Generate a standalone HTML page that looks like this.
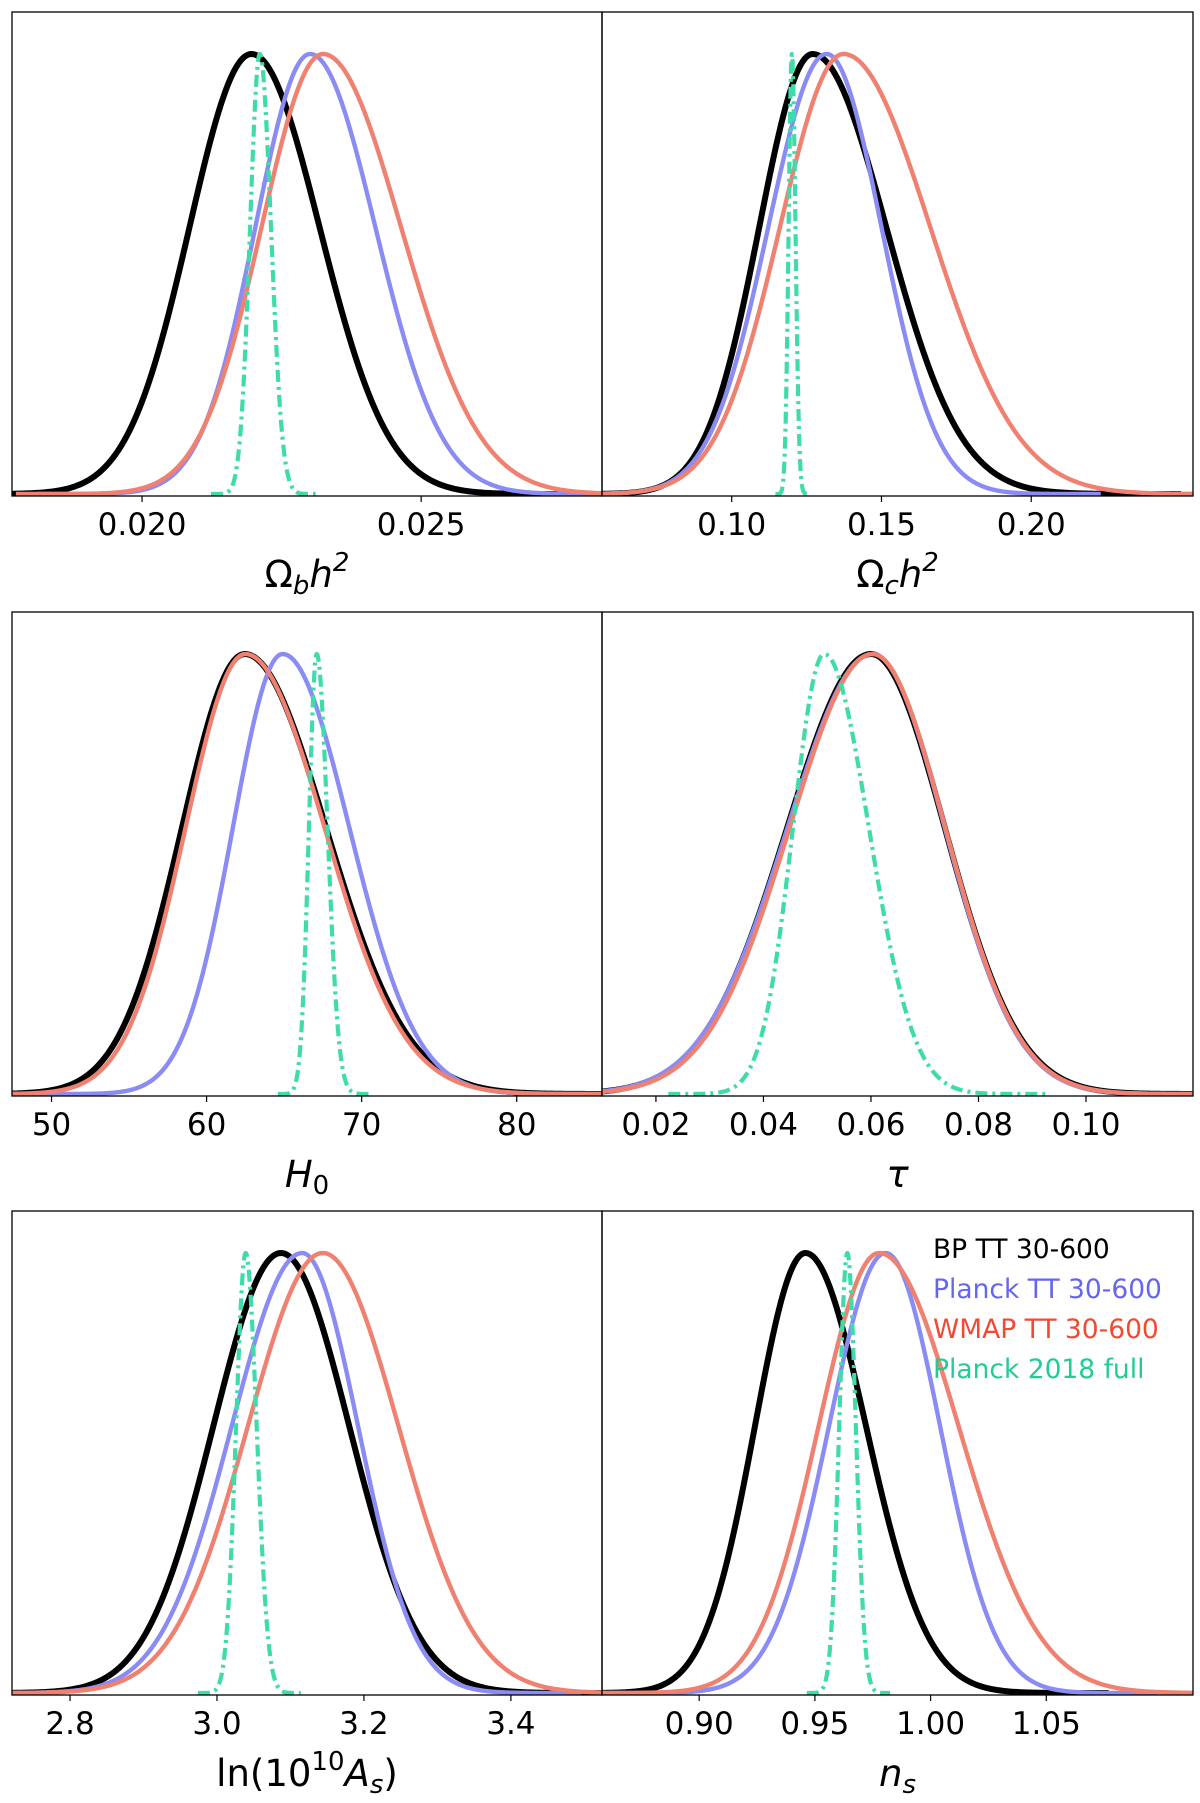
<!DOCTYPE html>
<html><head><meta charset="utf-8">
<style>
html,body{margin:0;padding:0;background:#fff;}
svg{display:block;font-family:"DejaVu Sans","Liberation Sans",sans-serif;}
</style></head>
<body>
<svg id="fig" width="1200" height="1803" viewBox="0 0 1200 1803" xmlns="http://www.w3.org/2000/svg"></svg>
<script>
// ---- data (split-normal fits: peak, sigma-left, sigma-right) ----
const seriesNames = ["BP TT 30-600","Planck TT 30-600","WMAP TT 30-600","Planck 2018 full"];
const obhPeak = [0.02196, 0.02301, 0.02324, 0.02211];
const obhSigL = [0.00111, 0.00098, 0.00110, 0.000175];
const obhSigR = [0.00122, 0.00117, 0.00140, 0.00020];
const ochPeak = [0.127, 0.1317, 0.1373, 0.1201];
const ochSigL = [0.0178, 0.0195, 0.0212, 0.0011];
const ochSigR = [0.0246, 0.0183, 0.0290, 0.0012];
const h0Peak = [62.46, 64.9, 62.5, 67.1];
const h0SigL = [4.04, 3.2, 3.85, 0.5];
const h0SigR = [5.23, 4.3, 5.1, 0.7];
const tauPeak = [0.0600, 0.0603, 0.0603, 0.0513];
const tauSigL = [0.01555, 0.0158, 0.0154, 0.0058];
const tauSigR = [0.0137, 0.0134, 0.0135, 0.0083];
const asPeak = [3.087, 3.116, 3.144, 3.039];
const asSigL = [0.092, 0.096, 0.102, 0.013];
const asSigR = [0.093, 0.076, 0.103, 0.015];
const nsPeak = [0.9459, 0.9806, 0.9777, 0.964];
const nsSigL = [0.0218, 0.0245, 0.0261, 0.0035];
const nsSigR = [0.0262, 0.0235, 0.0344, 0.0037];
const obhTicks = [0.020, 0.025];
const obhTickLabels = ["0.020","0.025"];
const ochTicks = [0.10, 0.15, 0.20];
const ochTickLabels = ["0.10","0.15","0.20"];
const h0Ticks = [50, 60, 70, 80];
const h0TickLabels = ["50","60","70","80"];
const tauTicks = [0.02, 0.04, 0.06, 0.08, 0.10];
const tauTickLabels = ["0.02","0.04","0.06","0.08","0.10"];
const asTicks = [2.8, 3.0, 3.2, 3.4];
const asTickLabels = ["2.8","3.0","3.2","3.4"];
const nsTicks = [0.90, 0.95, 1.00, 1.05];
const nsTickLabels = ["0.90","0.95","1.00","1.05"];

const NS = "http://www.w3.org/2000/svg";
const svg = document.getElementById('fig');
const colors = ["#000000","#8a8cf4","#f08070","#40dbab"];
const widths = [6, 4.4, 4.4, 4.2];
function mk(tag, attrs, parent){const e=document.createElementNS(NS,tag);for(const k in attrs)e.setAttribute(k,attrs[k]);(parent||svg).appendChild(e);return e;}

const panels = [
 {name:"omega-b-h2", x0:12, x1:602, top:12, xmin:0.01767, xmax:0.02824, peak:obhPeak, sl:obhSigL, sr:obhSigR, ticks:obhTicks, tl:obhTickLabels, label:[["Ω",""],["b","sub"],["h",""],["2","sup"]]},
 {name:"omega-c-h2", x0:602, x1:1193, top:12, xmin:0.0567, xmax:0.254, peak:ochPeak, sl:ochSigL, sr:ochSigR, ticks:ochTicks, tl:ochTickLabels, label:[["Ω",""],["c","sub"],["h",""],["2","sup"]]},
 {name:"h0", x0:12, x1:602, top:612, xmin:47.45, xmax:85.5, peak:h0Peak, sl:h0SigL, sr:h0SigR, ticks:h0Ticks, tl:h0TickLabels, label:[["H",""],["0","subn"]]},
 {name:"tau", x0:602, x1:1193, top:612, xmin:0.00997, xmax:0.1199, peak:tauPeak, sl:tauSigL, sr:tauSigR, ticks:tauTicks, tl:tauTickLabels, label:[["τ",""]]},
 {name:"ln-as", x0:12, x1:602, top:1211, xmin:2.721, xmax:3.524, peak:asPeak, sl:asSigL, sr:asSigR, ticks:asTicks, tl:asTickLabels, label:[["ln(10","n"],["10","supn"],["A",""],["s","sub"],[")","n"]]},
 {name:"n-s", x0:602, x1:1193, top:1211, xmin:0.858, xmax:1.1134, peak:nsPeak, sl:nsSigL, sr:nsSigR, ticks:nsTicks, tl:nsTickLabels, label:[["n",""],["s","sub"]]}
];
const H = 484;

panels.forEach((p,pi)=>{
  const g = mk('g',{});
  
  
  const bottom = p.top + H;
  const xs = v => p.x0 + (v - p.xmin)/(p.xmax - p.xmin)*(p.x1 - p.x0);
  const ys = d => bottom - 2 - d*440;
  const cid = 'clip'+pi;
  const cp = mk('clipPath',{id:cid},g);
  mk('rect',{x:p.x0,y:p.top,width:p.x1-p.x0,height:H},cp);
  const cg = mk('g',{'clip-path':'url(#'+cid+')'},g);
  const order=[0,1,2,3];
  order.forEach(s=>{
    const lo = Math.max(p.xmin, p.peak[s]-5*p.sl[s]);
    const hi = Math.min(p.xmax, p.peak[s]+5*p.sr[s]);
    let d='';
    const N=300;
    for(let i=0;i<=N;i++){
      const v = lo + (hi-lo)*i/N;
      const sg = v<p.peak[s]?p.sl[s]:p.sr[s];
      const z=(v-p.peak[s])/sg;
      const den=Math.exp(-0.5*z*z);
      d += (i?'L':'M')+xs(v).toFixed(2)+','+ys(den).toFixed(2);
    }
    const attrs={d:d,fill:'none',stroke:colors[s],'stroke-width':widths[s],'stroke-linejoin':'round'};
    if(s===3){attrs['stroke-dasharray']='12,5,3,5';}
    const path = mk('path',attrs,cg);
    
    
  });
  const frame = mk('rect',{x:p.x0,y:p.top,width:p.x1-p.x0,height:H,fill:'none',stroke:'#000','stroke-width':1.3},g);
  
  
  p.ticks.forEach((t,i)=>{
    const x = xs(t);
    const tk = mk('line',{x1:x,x2:x,y1:bottom,y2:bottom+6,stroke:'#000','stroke-width':1.2},g);
    
    
    const tx = mk('text',{x:x,y:bottom+39,'text-anchor':'middle','font-size':31,fill:'#000'},g);
    tx.textContent = p.tl[i];
    
    
  });
  const lab = mk('text',{x:(p.x0+p.x1)/2,y:bottom+91,'text-anchor':'middle','font-size':37,fill:'#000'},g);
  
  
  p.label.forEach(([t,k])=>{
    const ts = mk('tspan',{},lab);
    ts.textContent=t;
    if(k===''||k==='sub'||k==='sup') ts.setAttribute('font-style', (t==='Ω')?'normal':'italic');
    if(k==='sub'||k==='subn'){ts.setAttribute('font-size','26');ts.setAttribute('dy','7');}
    if(k==='sup'||k==='supn'){ts.setAttribute('font-size','26');ts.setAttribute('dy','-16');}
  });
  let prev=0;
  Array.from(lab.childNodes).forEach(ts=>{
    const dy = parseFloat(ts.getAttribute('dy')||'0');
    if(!ts.getAttribute('dy') && prev!==0){ts.setAttribute('dy', String(-prev));prev=0;}
    else if(ts.getAttribute('dy')){const nd=dy-prev;ts.setAttribute('dy',String(nd));prev=dy;}
  });
});

// legend
const legY=[1258,1298,1338,1378];
const legColors=["#000000","#6466f0","#f04a30","#22cc94"];
const lg = mk('g',{});


seriesNames.forEach((n,i)=>{
  const t = mk('text',{x:933,y:legY[i],'font-size':26.5,fill:legColors[i]},lg);
  t.textContent=n;
  
  
});
</script>
</body></html>
